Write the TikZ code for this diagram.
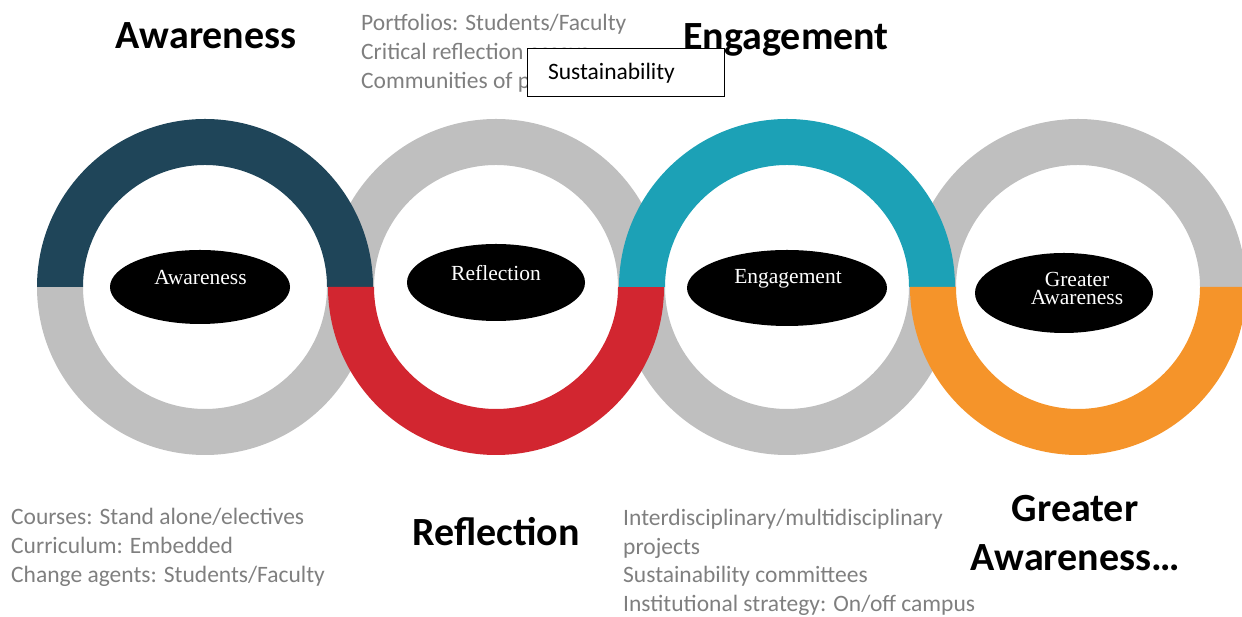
\documentclass[tikz,border=0pt]{standalone}
\usepackage{fontspec}
\setmainfont{Carlito}
\newfontfamily\serifface{Liberation Serif}
\usetikzlibrary{shapes.geometric}

\definecolor{ringgray}{RGB}{191,191,191}
\definecolor{awareblue}{RGB}{31,69,89}
\definecolor{engteal}{RGB}{28,161,182}
\definecolor{reflred}{RGB}{210,38,48}
\definecolor{greatorange}{RGB}{245,148,42}
\definecolor{notegray}{RGB}{127,127,127}

\tikzset{
  pics/upperhalf/.style={code={
    \fill[#1] (168,0) arc[start angle=0,end angle=180,radius=168pt]
      -- (-122,0) arc[start angle=180,end angle=0,radius=122pt] -- cycle;}},
  pics/lowerhalf/.style={code={
    \fill[#1] (-168,0) arc[start angle=180,end angle=360,radius=168pt]
      -- (122,0) arc[start angle=360,end angle=180,radius=122pt] -- cycle;}},
  heading/.style={font=\fontsize{40}{48}\selectfont\bfseries, text=black, inner sep=0pt, anchor=base},
  note/.style={font=\fontsize{23.5}{28}\selectfont, text=notegray, inner sep=0pt, anchor=base west},
  tag/.style={font=\serifface\fontsize{21.5}{24}\selectfont, text=white, inner sep=0pt, anchor=base},
  core/.style={ellipse, fill=black, inner sep=0pt},
  label box/.style={draw=black, line width=1pt, fill=white, minimum height=48pt,
    text width=155pt, inner xsep=21pt, align=left,
    font=\fontsize{23.5}{28}\selectfont}
}

\begin{document}
\begin{tikzpicture}[x=1pt,y=1pt]
\useasboundingbox (0,0) rectangle (1242,617);
\clip (0,0) rectangle (1242,617);

% grey halves of the chain, underneath
\pic at (205,330) {lowerhalf=ringgray};
\pic at (496,330) {upperhalf=ringgray};
\pic at (787,330) {lowerhalf=ringgray};
\pic at (1078,330) {upperhalf=ringgray};
% coloured halves on top
\pic at (205,330) {upperhalf=awareblue};
\pic at (496,330) {lowerhalf=reflred};
\pic at (787,330) {upperhalf=engteal};
\pic at (1078,330) {lowerhalf=greatorange};

% black cores with their stage names
\node[core, minimum width=180pt, minimum height=74pt] (c1) at (200,330) {};
\node[core, minimum width=178pt, minimum height=77pt] (c2) at (496,334.5) {};
\node[core, minimum width=200pt, minimum height=76pt] (c3) at (787,329) {};
\node[core, minimum width=178pt, minimum height=80pt] (c4) at (1064,324) {};
\node[tag] (t1) at (200.5,332) {Awareness};
\node[tag] (t2) at (496,336) {Reflection};
\node[tag] (t3) at (788,333) {Engagement};
\node[tag] (t4a) at (1077,330) {Greater};
\node[tag] (t4b) at (1077,312) {Awareness};

% activity notes
\node[note] (n1) at (361,586) {Portfolios: Students/Faculty};
\node[note] (n2) at (361,557.5) {Critical reflection essays};
\node[note] (n3) at (361,528) {Communities of practice};

\node[note] (n4) at (11,92) {Courses: Stand alone/electives};
\node[note] (n5) at (11,63) {Curriculum: Embedded};
\node[note] (n6) at (11,34) {Change agents: Students/Faculty};

\node[note] (n7) at (623,91) {Interdisciplinary/multidisciplinary};
\node[note] (n8) at (623,62) {projects};
\node[note] (n9) at (623,34) {Sustainability committees};
\node[note] (n10) at (623,5) {Institutional strategy: On/off campus};

% stage headings
\node[heading] (h1) at (206,568) {Awareness};
\node[heading] (h2) at (786,567) {Engagement};
\node[heading] (h3) at (496,71) {Reflection};
\node[heading] (h4a) at (1075,95) {Greater};
\node[heading] (h4b) at (1075,46) {Awareness…};

% box laid over the notes
\node[label box] (sust) at (625.5,544) {Sustainability};
\end{tikzpicture}
\end{document}
